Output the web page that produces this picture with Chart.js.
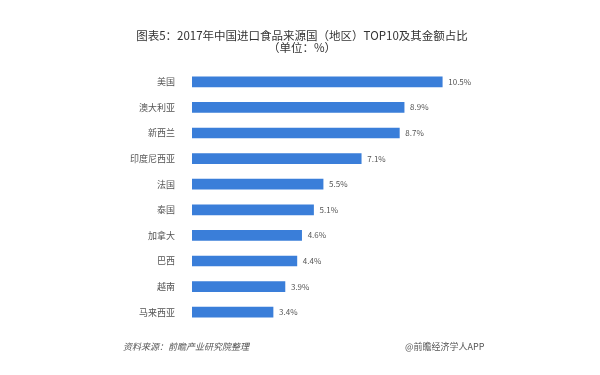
<!DOCTYPE html>
<html>
<head>
<meta charset="utf-8">
<script src="https://cdn.jsdelivr.net/npm/chart.js@4"></script>
<style>
  body { margin: 0; background: #fff; font-family: "Noto Sans CJK SC", sans-serif; }
  #wrap { position: relative; width: 600px; height: 375px; }
  #myChart { position: absolute; left: 0; top: 0; }
  .title { position: absolute; left: 0; width: 604px; text-align: center; color: #333; font-size: 11.5px; line-height: 12px; }
  .foot { position: absolute; top: 341px; font-size: 9px; line-height: 12px; color: #555; }
</style>
</head>
<body>
<div id="wrap">
  <canvas id="myChart" width="600" height="375"></canvas>
  <div class="title" style="top:29px">图表5：2017年中国进口食品来源国（地区）TOP10及其金额占比</div>
  <div class="title" style="top:41px">（单位：%）</div>
  <div class="foot" style="left:123px; font-style:italic">资料来源：前瞻产业研究院整理</div>
  <div class="foot" style="left:405px">@前瞻经济学人APP</div>
</div>
<script>
const countries = ['美国', '澳大利亚', '新西兰', '印度尼西亚', '法国', '泰国', '加拿大', '巴西', '越南', '马来西亚'];
const shares = [10.5, 8.9, 8.7, 7.1, 5.5, 5.1, 4.6, 4.4, 3.9, 3.4];

const valueLabels = {
  id: 'valueLabels',
  afterDatasetsDraw(chart) {
    const ctx = chart.ctx;
    const meta = chart.getDatasetMeta(0);
    ctx.save();
    ctx.font = '8px "Noto Sans CJK SC", sans-serif';
    ctx.fillStyle = '#555';
    ctx.textBaseline = 'middle';
    meta.data.forEach((bar, i) => {
      ctx.fillText(shares[i].toFixed(1) + '%', bar.x + 6, bar.y);
    });
    ctx.restore();
  }
};

function createChart() {
  const ctx = document.getElementById('myChart');

  new Chart(ctx, {
    type: 'bar',
    data: {
      labels: countries,
      datasets: [{
        data: shares,
        backgroundColor: '#3a7ed9',
        barThickness: 10
      }]
    },
    options: {
      indexAxis: 'y',
      responsive: false,
      animation: false,
      layout: { padding: { top: 69, bottom: 50, right: 122, left: 0 } },
      plugins: {
        legend: { display: false },
        tooltip: { enabled: false }
      },
      scales: {
        x: { display: false, min: 0, max: 12 },
        y: {
          grid: { display: false },
          border: { display: false },
          afterFit: (scale) => { scale.width = 192; },
          ticks: {
            padding: 9,
            color: '#555',
            font: { size: 9, family: '"Noto Sans CJK SC", sans-serif' }
          }
        }
      }
    },
    plugins: [valueLabels]
  });
}

createChart();
</script>
</body>
</html>
